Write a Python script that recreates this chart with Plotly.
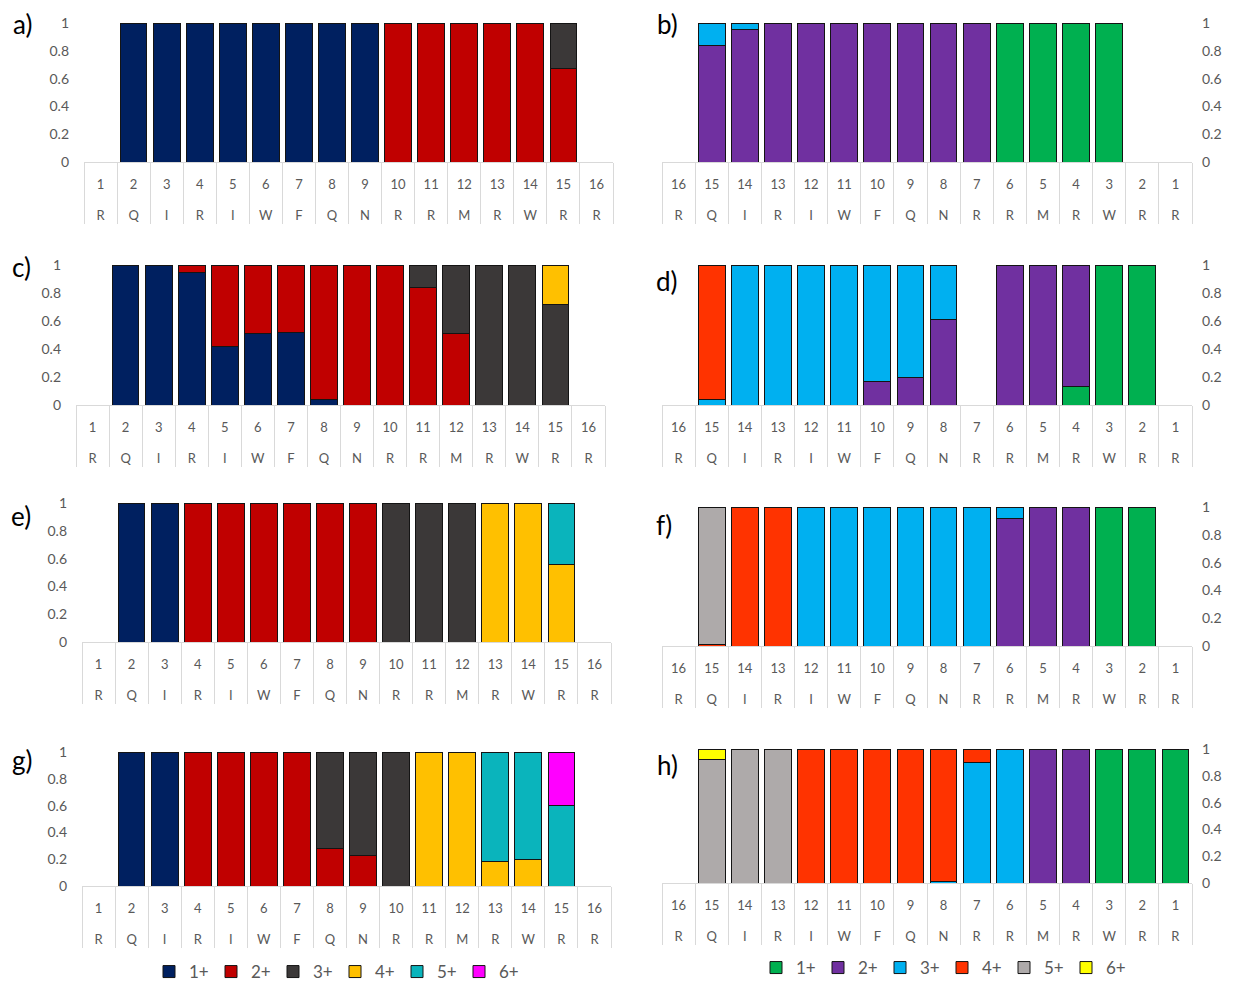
import plotly.graph_objects as go

N = None

# ---------------- data ----------------
num_left = [str(i) for i in range(1, 17)]
num_right = [str(i) for i in range(16, 0, -1)]
letters = ["R", "Q", "I", "R", "I", "W", "F", "Q", "N", "R", "R", "M", "R", "W", "R", "R"]
levels = ["1+", "2+", "3+", "4+", "5+", "6+"]
y_ticks = [0, 0.2, 0.4, 0.6, 0.8, 1]

colors_left = {"1+": "#002060", "2+": "#C00000", "3+": "#3B3838",
               "4+": "#FFC000", "5+": "#0AB4BC", "6+": "#FF00FF"}
colors_right = {"1+": "#00B050", "2+": "#7030A0", "3+": "#00B0F0",
                "4+": "#FF3300", "5+": "#AEAAAA", "6+": "#FFFF00"}

# left panels: display order 1..16 ; right panels: display order 16..1
panel_a = {
    "1+": [N, 1, 1, 1, 1, 1, 1, 1, 1, N, N, N, N, N, N, N],
    "2+": [N, N, N, N, N, N, N, N, N, 1, 1, 1, 1, 1, 0.67, N],
    "3+": [N, N, N, N, N, N, N, N, N, N, N, N, N, N, 0.33, N],
}
panel_b = {
    "1+": [N, N, N, N, N, N, N, N, N, N, 1, 1, 1, 1, N, N],
    "2+": [N, 0.84, 0.95, 1, 1, 1, 1, 1, 1, 1, N, N, N, N, N, N],
    "3+": [N, 0.16, 0.05, N, N, N, N, N, N, N, N, N, N, N, N, N],
}
panel_c = {
    "1+": [N, 1, 1, 0.95, 0.42, 0.51, 0.52, 0.04, N, N, N, N, N, N, N, N],
    "2+": [N, N, N, 0.05, 0.58, 0.49, 0.48, 0.96, 1, 1, 0.84, 0.51, N, N, N, N],
    "3+": [N, N, N, N, N, N, N, N, N, N, 0.16, 0.49, 1, 1, 0.72, N],
    "4+": [N, N, N, N, N, N, N, N, N, N, N, N, N, N, 0.28, N],
}
panel_d = {
    "1+": [N, N, N, N, N, N, N, N, N, N, N, N, 0.13, 1, 1, N],
    "2+": [N, N, N, N, N, N, 0.17, 0.2, 0.61, N, 1, 1, 0.87, N, N, N],
    "3+": [N, 0.04, 1, 1, 1, 1, 0.83, 0.8, 0.39, N, N, N, N, N, N, N],
    "4+": [N, 0.96, N, N, N, N, N, N, N, N, N, N, N, N, N, N],
}
panel_e = {
    "1+": [N, 1, 1, N, N, N, N, N, N, N, N, N, N, N, N, N],
    "2+": [N, N, N, 1, 1, 1, 1, 1, 1, N, N, N, N, N, N, N],
    "3+": [N, N, N, N, N, N, N, N, N, 1, 1, 1, N, N, N, N],
    "4+": [N, N, N, N, N, N, N, N, N, N, N, N, 1, 1, 0.56, N],
    "5+": [N, N, N, N, N, N, N, N, N, N, N, N, N, N, 0.44, N],
}
panel_f = {
    "1+": [N, N, N, N, N, N, N, N, N, N, N, N, N, 1, 1, N],
    "2+": [N, N, N, N, N, N, N, N, N, N, 0.92, 1, 1, N, N, N],
    "3+": [N, N, N, N, 1, 1, 1, 1, 1, 1, 0.08, N, N, N, N, N],
    "4+": [N, 0.01, 1, 1, N, N, N, N, N, N, N, N, N, N, N, N],
    "5+": [N, 0.99, N, N, N, N, N, N, N, N, N, N, N, N, N, N],
}
panel_g = {
    "1+": [N, 1, 1, N, N, N, N, N, N, N, N, N, N, N, N, N],
    "2+": [N, N, N, 1, 1, 1, 1, 0.28, 0.23, N, N, N, N, N, N, N],
    "3+": [N, N, N, N, N, N, N, 0.72, 0.77, 1, N, N, N, N, N, N],
    "4+": [N, N, N, N, N, N, N, N, N, N, 1, 1, 0.18, 0.2, N, N],
    "5+": [N, N, N, N, N, N, N, N, N, N, N, N, 0.82, 0.8, 0.6, N],
    "6+": [N, N, N, N, N, N, N, N, N, N, N, N, N, N, 0.4, N],
}
panel_h = {
    "1+": [N, N, N, N, N, N, N, N, N, N, N, N, N, 1, 1, 1],
    "2+": [N, N, N, N, N, N, N, N, N, N, N, 1, 1, N, N, N],
    "3+": [N, N, N, N, N, N, N, N, 0.01, 0.9, 1, N, N, N, N, N],
    "4+": [N, N, N, N, 1, 1, 1, 1, 0.99, 0.1, N, N, N, N, N, N],
    "5+": [N, 0.92, 1, 1, N, N, N, N, N, N, N, N, N, N, N, N],
    "6+": [N, 0.08, N, N, N, N, N, N, N, N, N, N, N, N, N, N],
}

# ---------------- layout geometry (page pixels) ----------------
BM = 8                      # default body margin of the html page
W, H = 1241 - BM, 993 - BM  # figure size
FONT = "Lato, 'Open Sans', sans-serif"
GRAY_TXT = "#595959"
LINE_GRAY = "#D9D9D9"


def px_x(x):
    return (x - BM) / W


def px_y(y):
    return 1 - (y - BM) / H


def xdom(x0, x1):
    return [px_x(x0), px_x(x1)]


def ydom(top, bottom):
    return [px_y(bottom), px_y(top)]


panels = [
    # label, data, side, colors, numbers, x px, y px, legend, label pos
    ("a)", panel_a, "left", colors_left, num_left, (84, 613), (23, 162), None, (22, 24)),
    ("b)", panel_b, "right", colors_right, num_right, (662, 1192), (23, 162), None, (667, 24)),
    ("c)", panel_c, "left", colors_left, num_left, (76, 605), (265, 405), None, (21, 267)),
    ("d)", panel_d, "right", colors_right, num_right, (662, 1192), (265, 405), None, (667, 281)),
    ("e)", panel_e, "left", colors_left, num_left, (82, 611), (503, 642), None, (21, 516)),
    ("f)", panel_f, "right", colors_right, num_right, (662, 1192), (507, 646), None, (664, 525)),
    ("g)", panel_g, "left", colors_left, num_left, (82, 611), (752, 886), "legend", (22, 760)),
    ("h)", panel_h, "right", colors_right, num_right, (662, 1192), (749, 883), "legend2", (667, 765)),
]

fig = go.Figure()
annotations = []
n_cat = len(letters)
pos = list(range(n_cat))
boundaries = [i - 0.5 for i in range(n_cat + 1)]
SPAN = "<span style='font-size:13px'>{}</span>"

for k, (lab, data, side, cols, nums, xpx, ypx, leg, lpos) in enumerate(panels, start=1):
    xname = "x" if k == 1 else f"x{k}"
    yname = "y" if k == 1 else f"y{k}"
    for lvl in levels:
        if lvl not in data:
            continue
        fig.add_trace(go.Bar(
            x=pos, y=data[lvl], name=lvl,
            xaxis=xname, yaxis=yname,
            marker=dict(color=cols[lvl], line=dict(color="#141414", width=1)),
            showlegend=leg is not None,
            legend=leg if leg else "legend",
            cliponaxis=False,
            hoverinfo="x+y+name",
        ))
    ticktext = [SPAN.format(n) + "<br>" + SPAN.format(l) for n, l in zip(nums, letters)]
    fig.layout[("xaxis" if k == 1 else f"xaxis{k}")] = dict(
        domain=xdom(*xpx), anchor=yname, automargin=False,
        range=[-0.5, n_cat - 0.5],
        tickmode="array", tickvals=pos, ticktext=ticktext,
        ticks="", showgrid=False, zeroline=False,
        showline=True, linecolor=LINE_GRAY, linewidth=1,
        tickfont=dict(size=24, color=GRAY_TXT, family=FONT),
        ticklabelstandoff=-3,
        minor=dict(tickmode="array", tickvals=boundaries, ticks="outside",
                   ticklen=61, tickcolor=LINE_GRAY, tickwidth=1, showgrid=False),
        fixedrange=True,
    )
    fig.layout[("yaxis" if k == 1 else f"yaxis{k}")] = dict(
        domain=ydom(*ypx), anchor=xname, side=side, automargin=False,
        range=[0, 1], tickmode="array", tickvals=y_ticks,
        ticktext=[f"{v:g}" for v in y_ticks],
        ticks="", showgrid=False, zeroline=False, showline=False,
        tickfont=dict(size=14, color=GRAY_TXT, family=FONT),
        ticklabelstandoff=14 if side == "left" else 9,
        fixedrange=True,
    )
    annotations.append(dict(
        text=lab, x=px_x(lpos[0]), y=px_y(lpos[1]), xref="paper", yref="paper",
        xanchor="center", yanchor="middle", showarrow=False, borderpad=0,
        font=dict(size=26, color="black", family=FONT),
    ))

fig.update_layout(
    template="none",
    width=W, height=H,
    margin=dict(l=0, r=0, t=0, b=0),
    paper_bgcolor="white", plot_bgcolor="white",
    barmode="stack", bargap=0.19,
    font=dict(family=FONT, color=GRAY_TXT),
    annotations=annotations,
    legend=dict(orientation="h", x=px_x(335), y=px_y(972), xanchor="center", yanchor="middle",
                traceorder="normal", font=dict(size=17, color=GRAY_TXT, family=FONT),
                entrywidth=17, itemclick=False, itemdoubleclick=False, bgcolor="rgba(0,0,0,0)"),
    legend2=dict(orientation="h", x=px_x(942), y=px_y(968), xanchor="center", yanchor="middle",
                 traceorder="normal", font=dict(size=17, color=GRAY_TXT, family=FONT),
                 entrywidth=17, itemclick=False, itemdoubleclick=False, bgcolor="rgba(0,0,0,0)"),
)

fig.write_html("out.html")
